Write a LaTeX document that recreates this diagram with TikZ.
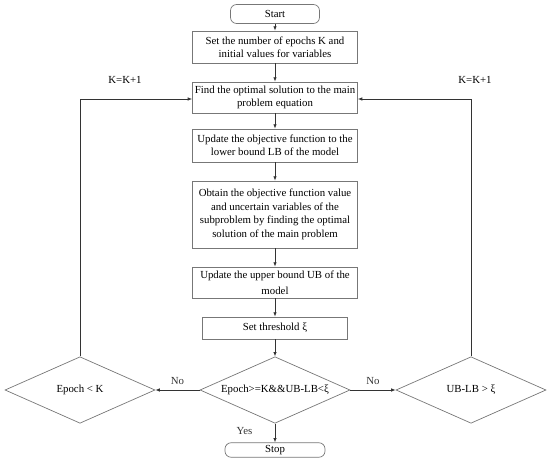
\documentclass[tikz,border=0pt]{standalone}
\usepackage{fontspec}
\setmainfont{Liberation Serif}
\usetikzlibrary{arrows.meta, positioning, shapes.geometric}
\definecolor{fcedge}{HTML}{777777}
\definecolor{fcline}{HTML}{333333}

\begin{document}
\begin{tikzpicture}[
      x=0.04cm, y=-0.04cm,
      font=\fontsize{12.3}{14.5}\selectfont,
      proc/.style={rectangle, draw=fcedge, line width=0.8pt, align=center,
                   minimum width=6.6cm, inner sep=1pt},
      term/.style={rectangle, rounded corners=7pt, draw=fcedge, line width=0.8pt,
                   inner sep=0pt},
      dec/.style={diamond, draw=fcedge, line width=0.8pt, aspect=2.25,
                  inner sep=0pt, minimum width=6cm, minimum height=2.66cm},
      ar/.style={-{Latex[length=5pt,width=4pt]}, fcline, line width=0.9pt},
      ln/.style={fcline, line width=0.9pt},
    ]
    \useasboundingbox (0,0) rectangle (550,462);

    % ---------------- main column
    \node[term, minimum width=3.56cm, minimum height=0.76cm] (start) at (275,14) {Start};
    \node[proc, minimum height=1.28cm] (init) at (275,47)
      {Set the number of epochs K and\\initial values for variables};
    \node[proc, minimum height=1.24cm] (master) at (275,97.5)
      {Find the optimal solution to the main\\problem equation};
    \node[proc, minimum height=1.32cm] (lower) at (275,145.5)
      {Update the objective function to the\\lower bound LB of the model};
    \node[proc, minimum height=2.68cm, font=\fontsize{12.3}{15.5}\selectfont] (sub) at (275,214.5)
      {Obtain the objective function value\\and uncertain variables of the\\subproblem by finding the optimal\\solution of the main problem};
    \node[proc, minimum height=1.24cm, font=\fontsize{12.3}{18}\selectfont] (upper) at (275,282.5)
      {Update the upper bound UB of the\\model};
    \node[proc, minimum width=5.8cm, minimum height=0.88cm] (thr) at (275,328)
      {Set threshold ξ};
    \node[dec] (check) at (275,390) {Epoch>=K\&\&UB-LB<ξ};
    \node[term, minimum width=4cm, minimum height=0.58cm] (stop) at (275,450) {Stop};

    % ---------------- side decisions
    \node[dec] (epk) at (80,390) {Epoch < K};
    \node[dec] (gap) at (471,390) {UB-LB > ξ};

    \draw[ar] (start) -- (init);
    \draw[ar] (init) -- (master);
    \draw[ar] (master) -- (lower);
    \draw[ar] (lower) -- (sub);
    \draw[ar] (sub) -- (upper);
    \draw[ar] (upper) -- (thr);
    \draw[ar] (thr) -- (check);
    \draw[ar] (check) -- node[left, pos=0.4, xshift=-22pt] {Yes} (stop);
    \draw[ar] (check) -- node[above, yshift=2pt] {No} (epk);
    \draw[ar] (check) -- node[above, yshift=2pt] {No} (gap);

    % ---------------- loops back
    \coordinate (lcorner) at (80,99);
    \coordinate (rcorner) at (471,99);
    \draw[ln] (epk.north) -- (lcorner);
    \draw[ar] (lcorner) -- (lcorner -| master.west);
    \draw[ln] (gap.north) -- (rcorner);
    \draw[ar] (rcorner) -- (rcorner -| master.east);
    \node (kl) at (125,80) {K=K+1};
    \node (kr) at (475,80) {K=K+1};
\end{tikzpicture}
\end{document}
